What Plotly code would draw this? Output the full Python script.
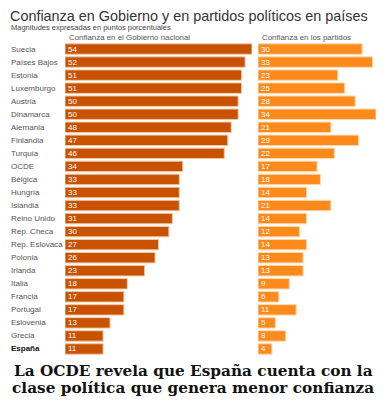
import plotly.graph_objects as go

countries = ["Suecia", "Países Bajos", "Estonia", "Luxemburgo", "Austria", "Dinamarca",
             "Alemania", "Finlandia", "Turquía", "OCDE", "Bélgica", "Hungría", "Islandia",
             "Reino Unido", "Rep. Checa", "Rep. Eslovaca", "Polonia", "Irlanda", "Italia",
             "Francia", "Portugal", "Eslovenia", "Grecia", "España"]
gobierno = [54, 52, 51, 51, 50, 50, 48, 47, 46, 34, 33, 33, 33, 31, 30, 27, 26, 23, 18,
            17, 17, 13, 11, 11]
partidos = [30, 33, 23, 25, 28, 34, 21, 29, 22, 17, 18, 14, 21, 14, 12, 14, 13, 13, 9,
            6, 11, 5, 8, 4]

# page body has an 8px margin; lay out in window pixels and shift
OFF = 8
W, H = 384 - OFF, 400 - OFF
px = lambda x: (x - OFF) / W
py = lambda y: 1 - (y - OFF) / H

fig = go.Figure()
common = dict(orientation="h", width=0.8, hoverinfo="skip")
fig.add_trace(go.Bar(y=countries, x=gobierno,
                     marker=dict(color="#C85200", line=dict(color="#ecc9a8", width=1)),
                     xaxis="x", yaxis="y", **common))
fig.add_trace(go.Bar(y=countries, x=partidos,
                     marker=dict(color="#FF8A1C", line=dict(color="#fbd9b0", width=1)),
                     xaxis="x2", yaxis="y", **common))

n = len(countries)
annotations = []
for c, g, p in zip(countries, gobierno, partidos):
    label = "<b>España</b>" if c == "España" else c
    annotations.append(dict(x=px(9), xref="paper", y=c, yref="y", text=label,
                            xanchor="left", yanchor="middle", showarrow=False,
                            font=dict(size=8, family="Arial",
                                      color="#111" if c == "España" else "#555")))
    annotations.append(dict(x=0, xref="x", y=c, yref="y", text=str(g), xshift=1,
                            xanchor="left", yanchor="middle", showarrow=False,
                            font=dict(size=8, family="Arial", color="white")))
    annotations.append(dict(x=0, xref="x2", y=c, yref="y", text=str(p), xshift=1,
                            xanchor="left", yanchor="middle", showarrow=False,
                            font=dict(size=8, family="Arial", color="white")))
annotations += [
    dict(x=px(8.5), y=py(16.5), xref="paper", yref="paper", xanchor="left", yanchor="middle",
         text="Confianza en Gobierno y en partidos políticos en países", showarrow=False,
         borderpad=0, font=dict(size=14.4, family="Arial", color="#333")),
    dict(x=px(9), y=py(28), xref="paper", yref="paper", xanchor="left", yanchor="middle",
         text="Magnitudes expresadas en puntos porcentuales", showarrow=False,
         font=dict(size=7.5, family="Arial", color="#444")),
    dict(x=px(67), y=py(37.5), xref="paper", yref="paper", xanchor="left", yanchor="middle",
         text="Confianza en el Gobierno nacional", showarrow=False,
         font=dict(size=7.9, family="Arial", color="#555")),
    dict(x=px(260), y=py(37.5), xref="paper", yref="paper", xanchor="left", yanchor="middle",
         text="Confianza en los partidos", showarrow=False,
         font=dict(size=7.9, family="Arial", color="#555")),
    dict(x=px(193), y=py(371), xref="paper", yref="paper", xanchor="center", yanchor="middle",
         text="<b>La OCDE revela que España cuenta con la</b>", showarrow=False,
         font=dict(size=15.3, family="DejaVu Serif", color="#111")),
    dict(x=px(193), y=py(388), xref="paper", yref="paper", xanchor="center", yanchor="middle",
         text="<b>clase política que genera menor confianza</b>", showarrow=False,
         font=dict(size=15.3, family="DejaVu Serif", color="#111")),
]

fig.update_layout(
    width=W, height=H, margin=dict(l=0, r=0, t=0, b=0),
    paper_bgcolor="white", plot_bgcolor="white", showlegend=False,
    xaxis=dict(domain=[px(65), px(252)], range=[0, 54], visible=False, fixedrange=True),
    xaxis2=dict(domain=[px(258), px(376)], range=[0, 34], visible=False, fixedrange=True),
    yaxis=dict(domain=[py(355.5), py(42.5)], range=[n - 0.5, -0.5], visible=False,
               type="category", categoryorder="array", categoryarray=countries,
               fixedrange=True),
    annotations=annotations,
)
fig.write_html("out.html")
